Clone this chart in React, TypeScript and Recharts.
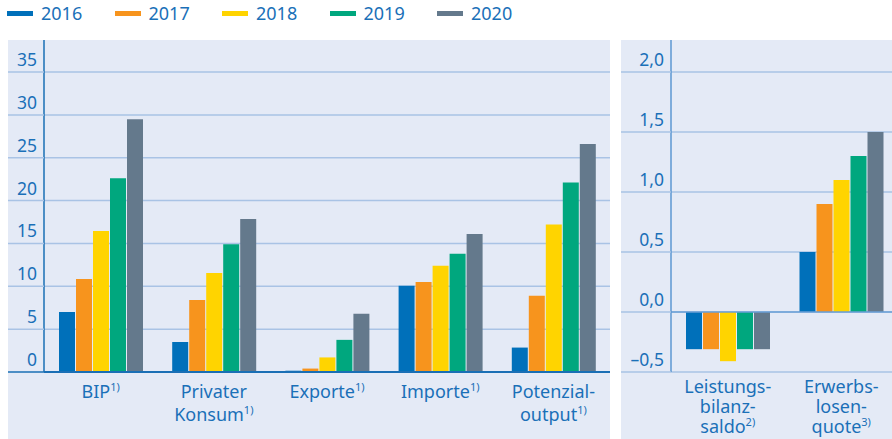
import { BarChart, Bar, XAxis, YAxis, CartesianGrid, ReferenceLine } from 'recharts'

const years = ['2016', '2017', '2018', '2019', '2020']
const colors = ['#0070ba', '#f7941d', '#ffd400', '#00a77e', '#64798c']

// left panel: Veränderung in %
const leftLabels = [['BIP'], ['Privater', 'Konsum'], ['Exporte'], ['Importe'], ['Potenzial-', 'output']]
const leftNotes = ['1)', '1)', '1)', '1)', '1)']
const left2016 = [7.0, 3.5, 0.15, 10.05, 2.85]
const left2017 = [10.85, 8.4, 0.4, 10.5, 8.9]
const left2018 = [16.45, 11.55, 1.7, 12.4, 17.2]
const left2019 = [22.6, 14.9, 3.75, 13.8, 22.1]
const left2020 = [29.5, 17.85, 6.8, 16.1, 26.6]
const leftTicks = [0, 5, 10, 15, 20, 25, 30, 35]
const leftDomain = [0, 38.97]

// right panel: Prozentpunkte
const rightLabels = [['Leistungs-', 'bilanz-', 'saldo'], ['Erwerbs-', 'losen-', 'quote']]
const rightNotes = ['2)', '3)']
const right2016 = [-0.31, 0.5]
const right2017 = [-0.31, 0.9]
const right2018 = [-0.41, 1.1]
const right2019 = [-0.31, 1.3]
const right2020 = [-0.31, 1.5]
const rightTicks = [-0.5, 0, 0.5, 1.0, 1.5, 2.0]
const rightDomain = [-0.5, 2.283]

const leftSeries = [left2016, left2017, left2018, left2019, left2020]
const rightSeries = [right2016, right2017, right2018, right2019, right2020]

const leftData = leftLabels.map((l, i) => {
  const row: Record<string, any> = { name: i }
  years.forEach((y, k) => (row[y] = leftSeries[k][i]))
  return row
})
const rightData = rightLabels.map((l, i) => {
  const row: Record<string, any> = { name: i }
  years.forEach((y, k) => (row[y] = rightSeries[k][i]))
  return row
})

const FONT = '"Noto Sans", sans-serif'
const TEXT = '#1a70b8'
const BG = '#e4eaf6'
const GRID = '#a9c3e5'
const AXIS = '#1a6fb5'

// grid only at the tick values
const gridAt = (ticks: number[], domain: number[]) => (args: any) => {
  const { top, height } = args.offset
  const [lo, hi] = domain
  return ticks.map((t) => top + height * (1 - (t - lo) / (hi - lo)))
}

function makeYTick(ticks: number[], axisX: number, fmt: (v: number) => string, zeroColor: string) {
  return (props: any) => {
    const { x, y, payload } = props
    const v = payload.value
    if (!ticks.includes(v)) return <g />
    return (
      <g>
        <line x1={0} x2={axisX} y1={y} y2={y} stroke={v === 0 ? zeroColor : GRID} strokeWidth={1.5} />
        <text x={x} y={y - 6} textAnchor="end" fill={TEXT} fontSize={17.5} fontFamily={FONT}>
          {fmt(v)}
        </text>
      </g>
    )
  }
}

function makeXTick(labels: string[][], notes: string[], first: number, step: number) {
  return (props: any) => {
    const { x, y, payload } = props
    const lines = labels[payload.value]
    return (
      <text x={x} y={y} textAnchor="middle" fill={TEXT} fontSize={18} fontFamily={FONT}>
        {lines.map((ln, i) => (
          <tspan key={i} x={x} y={y + first + i * step}>
            {ln}
            {i === lines.length - 1 && (
              <tspan fontSize={11} dy={-7}>
                {notes[payload.value]}
              </tspan>
            )}
          </tspan>
        ))}
      </text>
    )
  }
}

const fmtRight = (v: number) => (v < 0 ? '–' : '') + Math.abs(v).toFixed(1).replace('.', ',')

export default function App() {
  return (
    <div style={{ position: 'absolute', left: 0, top: 0, width: 892, height: 439, background: '#fff', overflow: 'hidden' }}>
      <div style={{ position: 'absolute', left: 7, top: 0, height: 26, display: 'flex', alignItems: 'center' }}>
        {years.map((y, i) => (
          <div key={y} style={{ display: 'flex', alignItems: 'center', width: 107.5 }}>
            <div style={{ width: 26, height: 5, background: colors[i], marginRight: 8 }} />
            <span style={{ color: TEXT, fontSize: 18, fontFamily: FONT }}>{y}</span>
          </div>
        ))}
      </div>

      <div style={{ position: 'absolute', left: 8, top: 40, width: 602, height: 399, background: BG, overflow: 'hidden' }}>
        <div style={{ position: 'absolute', left: 0, top: -4 }}>
          <BarChart width={602} height={403} data={leftData} margin={{ top: 2, right: 0, bottom: 0, left: 0 }} barSize={16} barGap={1}>
            <CartesianGrid horizontal vertical={false} horizontalCoordinatesGenerator={gridAt(leftTicks, leftDomain)} stroke={GRID} strokeWidth={1.5} />
            <XAxis dataKey="name" height={67} tickLine={false} tickSize={0} tickMargin={0} axisLine={{ stroke: AXIS, strokeWidth: 2 }} tick={makeXTick(leftLabels, leftNotes, 26, 23)} interval={0} />
            <YAxis width={36} domain={leftDomain} ticks={leftTicks} tickLine={false} tickSize={0} tickMargin={7} axisLine={{ stroke: AXIS, strokeWidth: 1.5 }} tick={makeYTick(leftTicks, 36, (v) => String(v), AXIS)} interval={0} />
            {years.map((y, i) => (
              <Bar key={y} dataKey={y} fill={colors[i]} isAnimationActive={false} />
            ))}
          </BarChart>
        </div>
      </div>

      <div style={{ position: 'absolute', left: 621, top: 40, width: 271, height: 399, background: BG, overflow: 'hidden' }}>
        <div style={{ position: 'absolute', left: 0, top: -4 }}>
          <BarChart width={277} height={403} data={rightData} margin={{ top: 2, right: 0, bottom: 0, left: 0 }} barSize={16} barGap={1}>
            <CartesianGrid horizontal vertical={false} horizontalCoordinatesGenerator={gridAt(rightTicks, rightDomain)} stroke={GRID} strokeWidth={1.5} />
            <XAxis dataKey="name" height={67} tickLine={false} tickSize={0} tickMargin={0} axisLine={false} tick={makeXTick(rightLabels, rightNotes, 21, 20)} interval={0} />
            <YAxis width={50} domain={rightDomain} ticks={rightTicks} tickLine={false} tickSize={0} tickMargin={7} axisLine={{ stroke: '#5d97d2', strokeWidth: 1.5 }} tick={makeYTick(rightTicks, 50, fmtRight, GRID)} interval={0} />
            <ReferenceLine y={0} stroke="#6a9fd6" strokeWidth={1.5} />
            {years.map((y, i) => (
              <Bar key={y} dataKey={y} fill={colors[i]} isAnimationActive={false} />
            ))}
          </BarChart>
        </div>
      </div>
    </div>
  )
}
